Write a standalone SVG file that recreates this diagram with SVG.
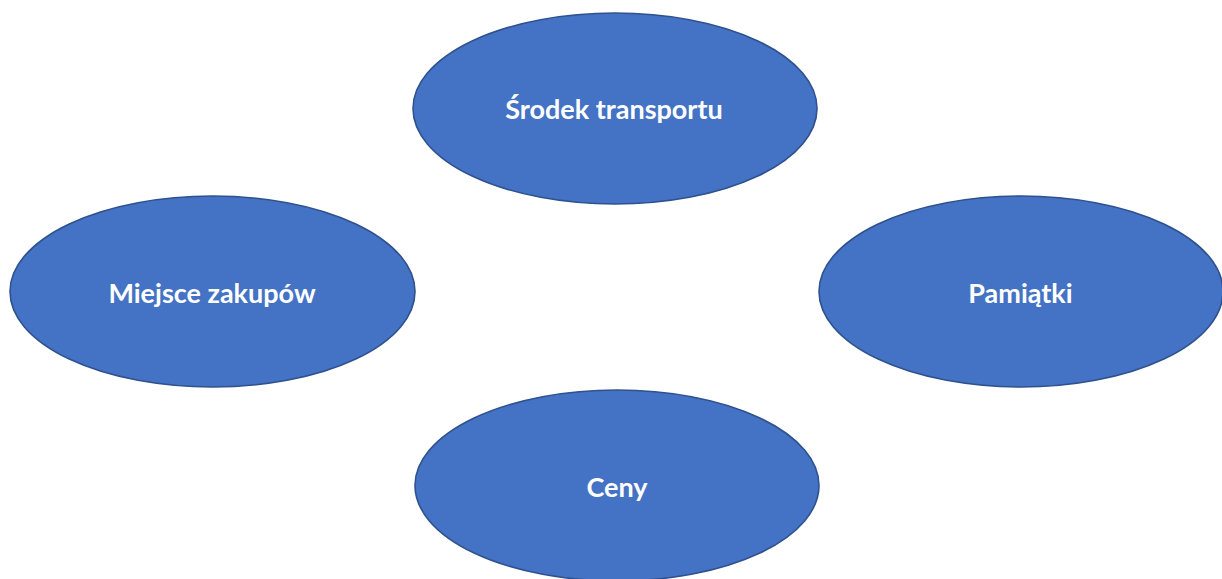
<svg xmlns="http://www.w3.org/2000/svg" width="1222" height="579" viewBox="0 0 1222 579">
<style>
.node ellipse { fill: #4472C4; stroke: #2F528F; stroke-width: 1.6; }
.node text { fill: #FFFFFF; font-family: Lato, "Liberation Sans", "Noto Sans", sans-serif; font-weight: bold; font-size: 27px; text-anchor: middle; }
</style>
<rect width="1222" height="579" fill="#FFFFFF"/>
<g id="connectors"></g>
<g id="node-srodek" class="node">
<ellipse cx="615" cy="108.5" rx="202" ry="95.5"/>
<text x="614" y="119">Środek transportu</text>
</g>
<g id="node-miejsce" class="node">
<ellipse cx="212.5" cy="291.5" rx="202.5" ry="95.5"/>
<text x="212" y="303">Miejsce zakupów</text>
</g>
<g id="node-pamiatki" class="node">
<ellipse cx="1021" cy="291.5" rx="202" ry="95.5"/>
<text x="1020.5" y="303">Pamiątki</text>
</g>
<g id="node-ceny" class="node">
<ellipse cx="617" cy="485.5" rx="202" ry="95.5"/>
<text x="617" y="497">Ceny</text>
</g>
</svg>
